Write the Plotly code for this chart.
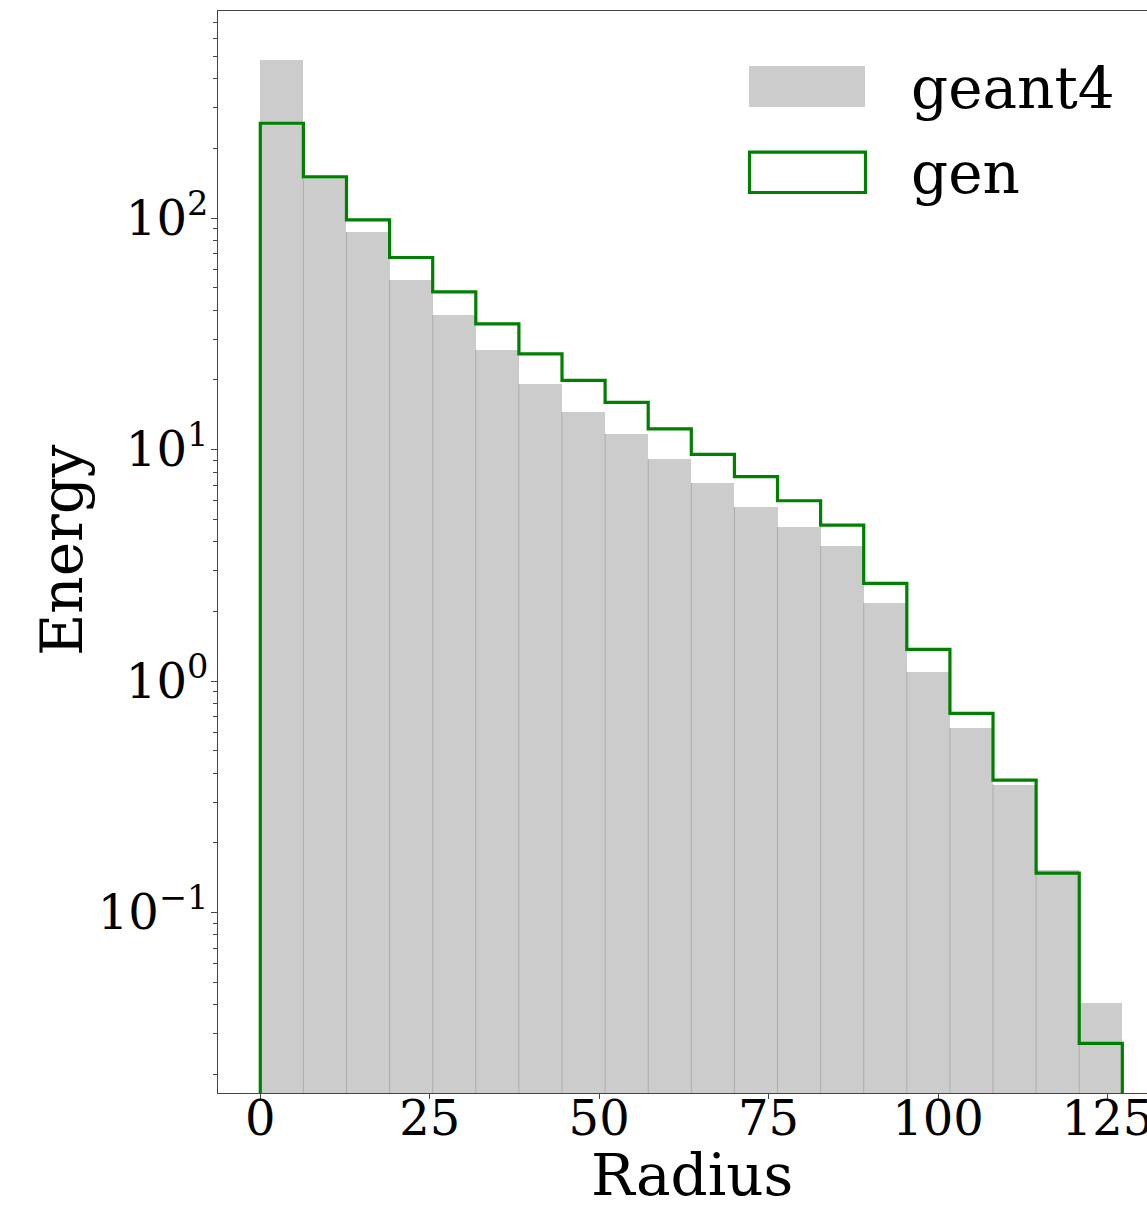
import plotly.graph_objects as go

# Histogram binning (20 equal bins on the radius axis)
bin_width = 6.36
n_bins = 20
bin_edges = [i * bin_width for i in range(n_bins + 1)]
bin_centers = [(bin_edges[i] + bin_edges[i + 1]) / 2 for i in range(n_bins)]

# Energy per radial bin
geant4_energy = [483, 147, 86.7, 54.1, 38.2, 27.0, 19.2, 14.5, 11.7, 9.12,
                 7.18, 5.65, 4.63, 3.83, 2.17, 1.096, 0.628, 0.357, 0.152, 0.0406]
gen_energy = [257, 150.8, 98.3, 67.6, 48.0, 34.9, 25.9, 19.9, 16.0, 12.3,
              9.53, 7.64, 6.01, 4.72, 2.64, 1.37, 0.725, 0.373, 0.148, 0.0272]

# Axis ticks
x_tick_vals = [0, 25, 50, 75, 100, 125]
y_tick_vals = [0.1, 1, 10, 100]
y_tick_text = ["10<sup>\u22121</sup>", "10<sup>0</sup>", "10<sup>1</sup>", "10<sup>2</sup>"]
y_minor_vals = [d * 10.0 ** k for k in range(-2, 3) for d in range(2, 10)]

FONT = "DejaVu Serif"
W, H = 1147, 1207
M_L, M_R, M_T, M_B = 218, 0, 11, 114
X_RANGE = [-6.24, 130.84]
Y_RANGE = [-1.780, 2.895]
FLOOR = 1e-3  # below the visible axis, so outlines run to the bottom edge

fig = go.Figure()

# filled geant4 histogram
fig.add_trace(go.Bar(
    x=bin_centers, y=geant4_energy, width=bin_width,
    marker=dict(color="#cccccc", line=dict(width=0)),
    name="geant4", showlegend=False,
))

# thin separators between the filled bins
sep_x, sep_y = [], []
for i in range(1, n_bins):
    top = min(geant4_energy[i - 1], geant4_energy[i])
    sep_x += [bin_edges[i], bin_edges[i], None]
    sep_y += [FLOOR, top, None]
fig.add_trace(go.Scatter(
    x=sep_x, y=sep_y, mode="lines",
    line=dict(color="#adadad", width=1), hoverinfo="skip", showlegend=False,
))

# step outline for the generated sample
step_x, step_y = [bin_edges[0]], [FLOOR]
for i in range(n_bins):
    step_x += [bin_edges[i], bin_edges[i + 1]]
    step_y += [gen_energy[i], gen_energy[i]]
step_x.append(bin_edges[-1])
step_y.append(FLOOR)
fig.add_trace(go.Scatter(
    x=step_x, y=step_y, mode="lines",
    line=dict(color="#008000", width=3.2), name="gen", showlegend=False,
))

pw = W - M_L - M_R
ph = H - M_T - M_B


def px(x):
    return (x - M_L) / pw


def py(y):
    return 1 - (y - M_T) / ph


# legend drawn by hand: wide patches with large labels
shapes = [
    dict(type="rect", xref="paper", yref="paper",
         x0=px(749), x1=px(865), y0=py(107), y1=py(66),
         fillcolor="#cccccc", line=dict(width=0)),
    dict(type="rect", xref="paper", yref="paper",
         x0=px(749.5), x1=px(865.5), y0=py(192.5), y1=py(152.2),
         fillcolor="rgba(0,0,0,0)", line=dict(color="#008000", width=3.2)),
]
annotations = [
    dict(text="geant4", xref="paper", yref="paper", x=px(910), y=py(88),
         xanchor="left", yanchor="middle", showarrow=False, borderpad=0,
         font=dict(family=FONT, size=58, color="black")),
    dict(text="gen", xref="paper", yref="paper", x=px(910), y=py(173),
         xanchor="left", yanchor="middle", showarrow=False, borderpad=0,
         font=dict(family=FONT, size=58, color="black")),
    dict(text="Radius", xref="paper", yref="paper", x=px(692), y=py(1175),
         xanchor="center", yanchor="middle", showarrow=False, borderpad=0,
         font=dict(family=FONT, size=58, color="black")),
    dict(text="Energy", xref="paper", yref="paper", x=px(62), y=py(550),
         xanchor="center", yanchor="middle", textangle=-90, showarrow=False,
         borderpad=0, font=dict(family=FONT, size=58, color="black")),
]

fig.update_layout(
    width=W, height=H,
    margin=dict(l=M_L, r=M_R, t=M_T, b=M_B, pad=0),
    paper_bgcolor="white", plot_bgcolor="white",
    bargap=0, showlegend=False,
    shapes=shapes, annotations=annotations,
    font=dict(family=FONT, color="black"),
)
fig.update_xaxes(
    range=X_RANGE, showgrid=False, zeroline=False, automargin=False,
    showline=True, linecolor="#444444", linewidth=1.2, mirror=True,
    ticks="outside", ticklen=5, tickwidth=1, tickcolor="#444444",
    tickmode="array", tickvals=x_tick_vals,
    ticklabeloverflow="allow", ticklabelstandoff=-22,
    tickfont=dict(family=FONT, size=48, color="black"),
)
fig.update_yaxes(
    type="log", range=Y_RANGE, showgrid=False, zeroline=False, automargin=False,
    showline=True, linecolor="#444444", linewidth=1.2,
    ticks="outside", ticklen=6, tickwidth=1, tickcolor="#444444",
    tickmode="array", tickvals=y_tick_vals, ticktext=y_tick_text,
    ticklabelstandoff=-7,
    tickfont=dict(family=FONT, size=48, color="black"),
    minor=dict(ticks="outside", ticklen=3.5, tickwidth=1, tickcolor="#444444",
               tickmode="array", tickvals=y_minor_vals, showgrid=False),
)

fig.write_html("out.html")
